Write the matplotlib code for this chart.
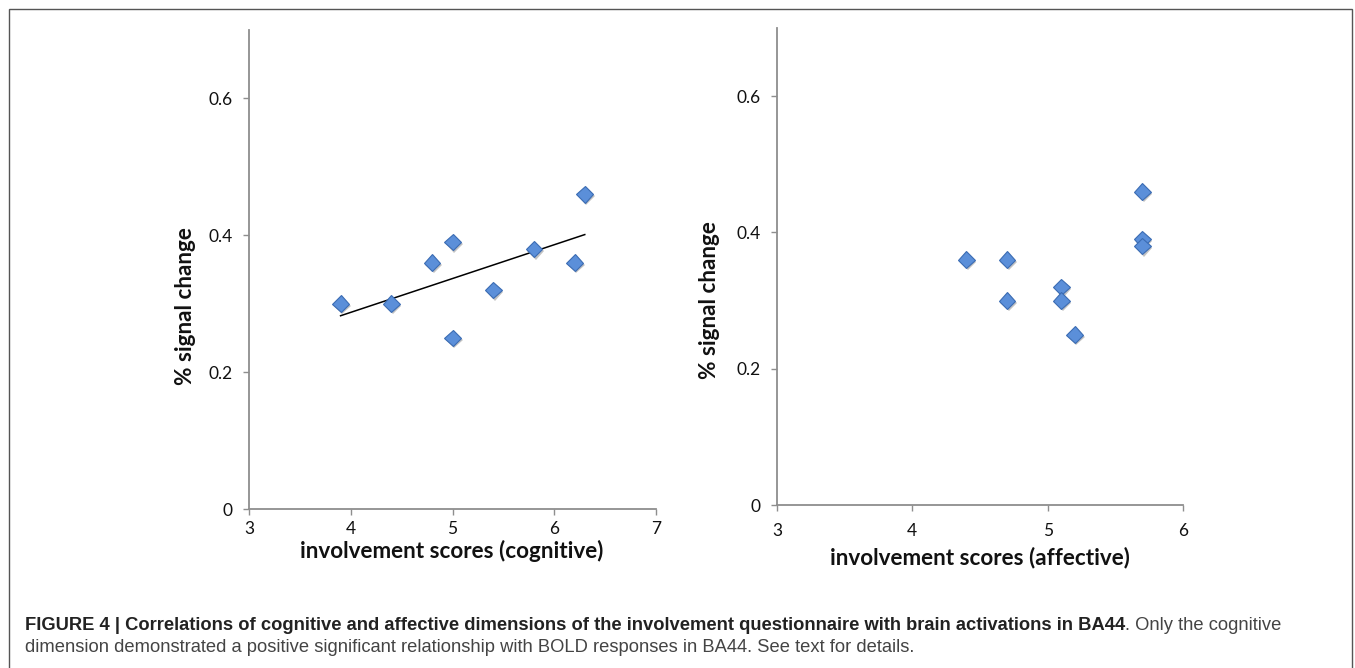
import numpy as np
import matplotlib
matplotlib.use("Agg")
import matplotlib.pyplot as plt
import matplotlib.patheffects as pe
from matplotlib.patches import Rectangle

# ---- data ----
cog_x = [3.9, 4.4, 4.8, 5.0, 5.0, 5.4, 5.8, 6.2, 6.3]
cog_y = [0.30, 0.30, 0.36, 0.39, 0.25, 0.32, 0.38, 0.36, 0.46]
aff_x = [4.4, 4.7, 4.7, 5.1, 5.1, 5.2, 5.7, 5.7, 5.7]
aff_y = [0.36, 0.36, 0.30, 0.32, 0.30, 0.25, 0.46, 0.39, 0.38]
y_ticks = [0, 0.2, 0.4, 0.6]
y_ticklabels = ["0", "0.2", "0.4", "0.6"]
cog_xticks = [3, 4, 5, 6, 7]
aff_xticks = [3, 4, 5, 6]
ylabel = "% signal change"
xlabel_cog = "involvement scores (cognitive)"
xlabel_aff = "involvement scores (affective)"
cap_bold = ("FIGURE 4 | Correlations of cognitive and affective dimensions of the "
            "involvement questionnaire with brain activations in BA44")
cap_rest1 = ". Only the cognitive"
cap_line2 = ("dimension demonstrated a positive significant relationship with BOLD "
             "responses in BA44. See text for details.")

W, H = 1355, 668
fig = plt.figure(figsize=(W / 100, H / 100), dpi=100)
fig.patch.set_facecolor("white")

def fx(px):
    return px / W

def fy(py):
    return (H - py) / H

axis_col = "#8e8e8e"
tick_font = dict(family=["Lato", "DejaVu Sans"], size=12.5, color="#111111")
label_font = dict(family=["Lato", "DejaVu Sans"], size=16.2, weight="bold", color="#111111")

shadow = [pe.SimplePatchShadow(offset=(1.2, -1.6), shadow_rgbFace="#7a7a7a", alpha=0.45), pe.Normal()]

def make_ax(x0, x1, ytop, y0, xlim, xticks, xs, ys, trend, xpad):
    ax = fig.add_axes([fx(x0), fy(y0), fx(x1) - fx(x0), fy(ytop) - fy(y0)])
    ax.set_xlim(*xlim)
    ax.set_ylim(0, 0.7)
    for s in ["top", "right"]:
        ax.spines[s].set_visible(False)
    for s in ["left", "bottom"]:
        ax.spines[s].set_color(axis_col)
        ax.spines[s].set_linewidth(1.3)
    ax.set_xticks(xticks)
    ax.set_xticklabels([str(t) for t in xticks], **tick_font)
    ax.set_yticks(y_ticks)
    ax.set_yticklabels(y_ticklabels, **tick_font)
    ax.tick_params(axis="both", direction="out", length=4, width=1, color=axis_col)
    ax.tick_params(axis="x", pad=xpad)
    ax.tick_params(axis="y", pad=8)
    if trend:
        k, b = np.polyfit(xs, ys, 1)
        xx = np.array([min(xs), max(xs)])
        ax.plot(xx, k * xx + b, color="black", lw=1.1, zorder=2)
    ax.plot(xs, ys, linestyle="none", marker="D", markersize=8.5,
            markerfacecolor="#5b8fd9", markeredgecolor="#3b6cb3", markeredgewidth=0.8,
            path_effects=shadow, zorder=3, clip_on=False)
    ax.set_facecolor("none")
    return ax

ax1 = make_ax(249, 656, 30, 509, (3, 7), cog_xticks, cog_x, cog_y, True, 5)
ax2 = make_ax(777, 1183, 28, 505, (3, 6), aff_xticks, aff_x, aff_y, False, 9)

fig.text(fx(185), fy(306), ylabel, rotation=90, ha="center", va="center", **label_font)
fig.text(fx(710), fy(300), ylabel, rotation=90, ha="center", va="center", **label_font)
fig.text(fx(452), fy(551), xlabel_cog, ha="center", va="center", **label_font)
fig.text(fx(980), fy(558), xlabel_aff, ha="center", va="center", **label_font)

# frame
fig.patches.append(Rectangle((fx(9), -0.05), fx(1352) - fx(9), fy(9) + 0.05,
                             transform=fig.transFigure, fill=False,
                             edgecolor="#555555", lw=1.0))

cap_font = ["Liberation Sans", "DejaVu Sans"]
cap_size = 13.2
t1 = fig.text(fx(25), fy(630), cap_bold, ha="left", va="baseline",
              family=cap_font, size=cap_size, weight="bold", color="#222222")
fig.canvas.draw()
r = fig.canvas.get_renderer()
bb = t1.get_window_extent(renderer=r)
fig.text(bb.x1 / W, fy(630), cap_rest1, ha="left", va="baseline",
         family=cap_font, size=cap_size, color="#444444")
fig.text(fx(25), fy(652), cap_line2, ha="left", va="baseline",
         family=cap_font, size=cap_size, color="#444444")

fig.savefig("out.png", dpi=100, facecolor="white")
